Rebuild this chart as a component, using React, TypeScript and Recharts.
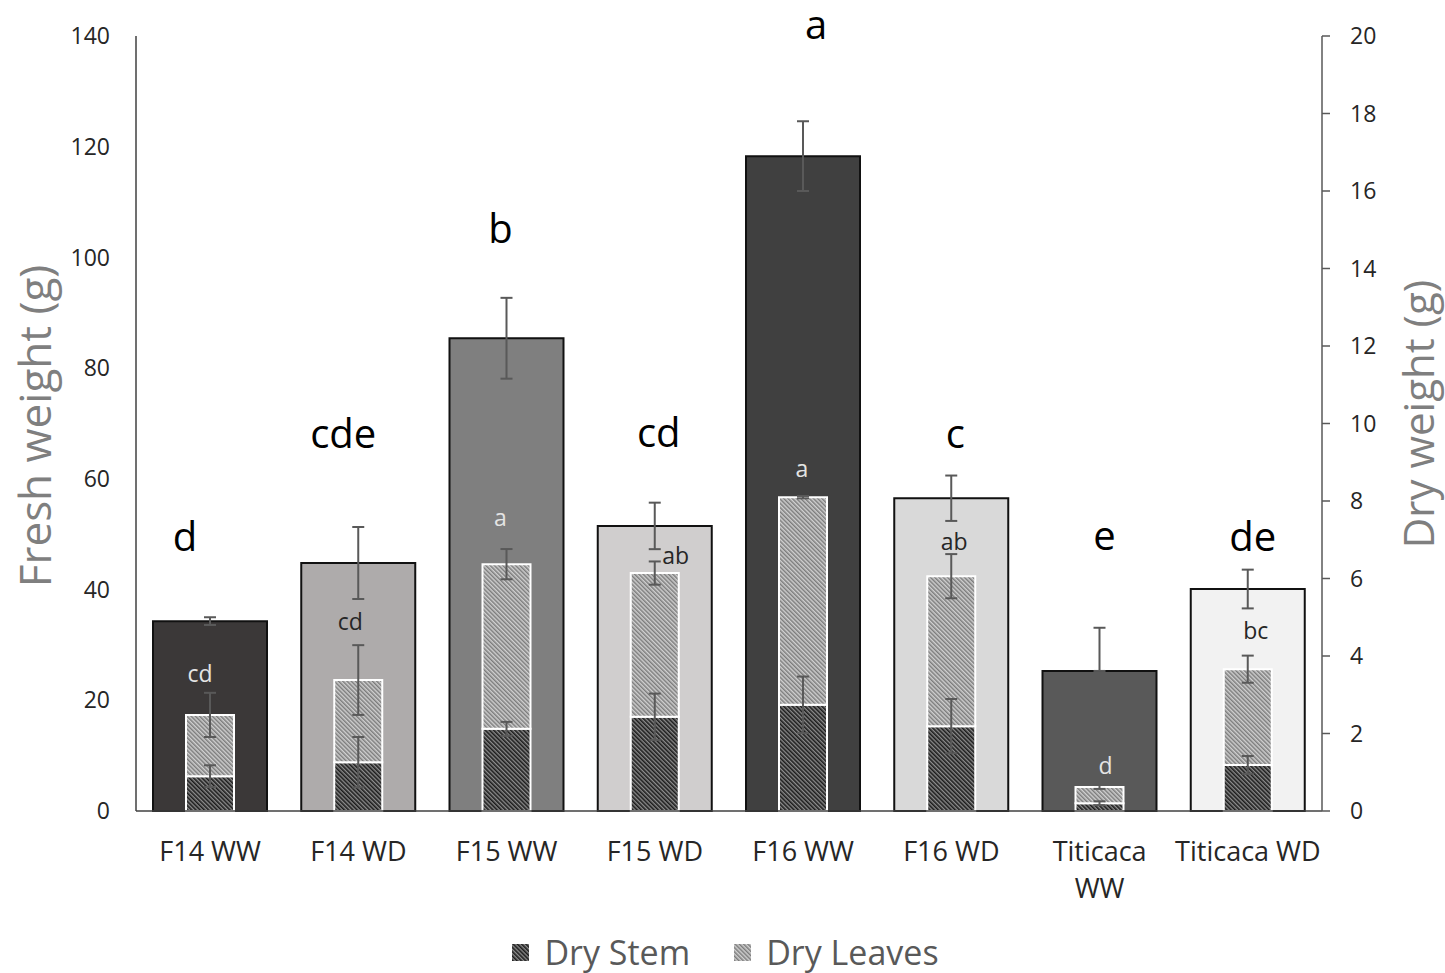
import React from "react";
import {
  Bar,
  Cell,
  ComposedChart,
  ErrorBar,
  LabelList,
  XAxis,
  YAxis,
} from "recharts";

// values
const categories = ["F14 WW", "F14 WD", "F15 WW", "F15 WD", "F16 WW", "F16 WD", "Titicaca WW", "Titicaca WD"];
const tickLabels = ["F14 WW", "F14 WD", "F15 WW", "F15 WD", "F16 WW", "F16 WD", "Titicaca\nWW", "Titicaca WD"];
const freshWeight = [34.3, 44.8, 85.4, 51.5, 118.3, 56.5, 25.3, 40.1];
const freshErr = [[0.7, 0.7], [6.5, 6.5], [7.3, 7.3], [4.2, 4.2], [6.3, 6.3], [4.1, 4.1], [0, 7.8], [3.5, 3.5]];
const dryStem = [0.9, 1.26, 2.12, 2.43, 2.74, 2.19, 0.2, 1.19];
const dryStemErr = [0.28, 0.65, 0.18, 0.6, 0.73, 0.7, 0.05, 0.23];
const dryLeaves = [1.58, 2.12, 4.25, 3.71, 5.36, 3.87, 0.42, 2.47];
const dryLeavesErr = [0.57, 0.9, 0.39, 0.3, 0.03, 0.57, 0.05, 0.35];
const freshLetters = ["d", "cde", "b", "cd", "a", "c", "e", "de"];
const dryLetters = ["cd", "cd", "a", "ab", "a", "ab", "d", "bc"];
const leftTicks = [0, 20, 40, 60, 80, 100, 120, 140];
const rightTicks = [0, 2, 4, 6, 8, 10, 12, 14, 16, 18, 20];

const data = categories.map((name, i) => ({
  name,
  fresh: freshWeight[i],
  freshErr: freshErr[i],
  stem: dryStem[i],
  stemErr: dryStemErr[i],
  leaves: dryLeaves[i],
  leavesErr: dryLeavesErr[i],
}));

// styling
const FONT = "'Open Sans', sans-serif";
const freshColors = ["#3b3838", "#aeabab", "#7f7f7f", "#d0cece", "#404040", "#d9d9d9", "#595959", "#f2f2f2"];
const darkBar = [true, false, true, false, true, false, true, false];
// hand placement of the letter annotations (px from bar top centre)
const bigDx = [-25, -15, -6, 4, 13, 4, 5, 5];
const bigDy = [-86, -131, -111, -94, -133, -66, -136, -54];
const smallDx = [-10, -8, -6, 21, -1, 3, 6, 8];
const smallDy = [-42, -59, -47, -18, -29, -35, -22, -39];

const errStyle = { stroke: "#595959", strokeWidth: 2 };
const stemHatch = { bg: "#8c8c8c", fg: "#1c1c1c", w: 1.6 };
const leafHatch = { bg: "#d0d0d0", fg: "#7c7c7c", w: 1.5 };

const CatTick = (props: any) => {
  const { x, y, payload } = props;
  const idx = categories.indexOf(payload.value);
  const lines = (tickLabels[idx] ?? payload.value).split("\n");
  return (
    <text x={x} y={y} textAnchor="middle" fill="#262626" fontSize={27} fontFamily={FONT}>
      {lines.map((l: string, k: number) => (
        <tspan key={k} x={x} y={y + 50 + k * 37}>
          {l}
        </tspan>
      ))}
    </text>
  );
};

const BigLetter = (p: any) => {
  const i = p.index;
  return (
    <text
      x={p.x + p.width / 2 + bigDx[i]}
      y={p.y + bigDy[i]}
      textAnchor="middle"
      dominantBaseline="central"
      fontSize={40}
      fill="#000"
      fontFamily={FONT}
    >
      {freshLetters[i]}
    </text>
  );
};

const SmallLetter = (p: any) => {
  const i = p.index;
  return (
    <text
      x={p.x + p.width / 2 + smallDx[i]}
      y={p.y + smallDy[i]}
      textAnchor="middle"
      dominantBaseline="central"
      fontSize={23}
      fill={darkBar[i] ? "#e4e4e4" : "#262626"}
      fontFamily={FONT}
    >
      {dryLetters[i]}
    </text>
  );
};

const Hatch = ({ id, bg, fg, w }: { id: string; bg: string; fg: string; w: number }) => (
  <pattern id={id} width="3" height="3" patternUnits="userSpaceOnUse" patternTransform="rotate(-45)">
    <rect width="3" height="3" fill={bg} />
    <rect width={w} height="3" fill={fg} />
  </pattern>
);

const LegendBox = ({ id, h }: { id: string; h: { bg: string; fg: string; w: number } }) => (
  <svg width={17} height={17} style={{ marginRight: 15 }}>
    <defs>
      <Hatch id={id} {...h} />
    </defs>
    <rect width={17} height={17} fill={`url(#${id})`} />
  </svg>
);

export default function App() {
  return (
    <div
      style={{
        position: "absolute",
        left: 0,
        top: 0,
        width: 1445,
        height: 973,
        background: "#fff",
        fontFamily: FONT,
      }}
    >
      <ComposedChart width={1445} height={973} data={data} margin={{ top: 36, right: 0, bottom: 102, left: 0 }}>
        <defs>
          <Hatch id="stemHatch" {...stemHatch} />
          <Hatch id="leafHatch" {...leafHatch} />
        </defs>
        <XAxis
          xAxisId="a"
          dataKey="name"
          height={60}
          interval={0}
          tickLine={false}
          tickSize={0}
          tickMargin={0}
          axisLine={{ stroke: "#404040", strokeWidth: 1.5 }}
          tick={<CatTick />}
        />
        <XAxis xAxisId="b" dataKey="name" hide />
        <YAxis
          yAxisId="left"
          width={136}
          domain={[0, 140]}
          ticks={leftTicks}
          interval={0}
          tickLine={false}
          tickSize={0}
          tickMargin={26}
          axisLine={{ stroke: "#404040", strokeWidth: 1.5 }}
          tick={{ fill: "#262626", fontSize: 23, fontFamily: FONT }}
          label={{
            content: () => (
              <text
                x={34}
                y={426}
                transform="rotate(-90 34 426)"
                textAnchor="middle"
                dominantBaseline="central"
                fontSize={44}
                fill="#7f7f7f"
                fontFamily={FONT}
              >
                Fresh weight (g)
              </text>
            ),
          }}
        />
        <YAxis
          yAxisId="right"
          orientation="right"
          width={123}
          domain={[0, 20]}
          ticks={rightTicks}
          interval={0}
          tickSize={8}
          tickMargin={20}
          tickLine={{ stroke: "#595959", strokeWidth: 1.5 }}
          axisLine={{ stroke: "#595959", strokeWidth: 1.5 }}
          tick={{ fill: "#262626", fontSize: 23, fontFamily: FONT }}
          label={{
            content: () => (
              <text
                x={1417}
                y={414}
                transform="rotate(-90 1417 414)"
                textAnchor="middle"
                dominantBaseline="central"
                fontSize={42}
                fill="#7f7f7f"
                fontFamily={FONT}
              >
                Dry weight (g)
              </text>
            ),
          }}
        />
        <Bar
          xAxisId="a"
          yAxisId="left"
          dataKey="fresh"
          barSize={114}
          stroke="#111"
          strokeWidth={2}
          isAnimationActive={false}
        >
          {data.map((d, i) => (
            <Cell key={d.name} fill={freshColors[i]} />
          ))}
          <ErrorBar dataKey="freshErr" direction="y" width={6} {...errStyle} />
          <LabelList dataKey="fresh" content={<BigLetter />} />
        </Bar>
        <Bar
          xAxisId="b"
          yAxisId="right"
          dataKey="stem"
          stackId="dry"
          barSize={48}
          fill="url(#stemHatch)"
          stroke="#fff"
          strokeWidth={2}
          isAnimationActive={false}
        >
          <ErrorBar dataKey="stemErr" direction="y" width={6} {...errStyle} />
        </Bar>
        <Bar
          xAxisId="b"
          yAxisId="right"
          dataKey="leaves"
          stackId="dry"
          barSize={48}
          fill="url(#leafHatch)"
          stroke="#fff"
          strokeWidth={2}
          isAnimationActive={false}
        >
          <ErrorBar dataKey="leavesErr" direction="y" width={6} {...errStyle} />
          <LabelList dataKey="leaves" content={<SmallLetter />} />
        </Bar>
      </ComposedChart>
      <div
        style={{
          position: "absolute",
          top: 932,
          left: 0,
          width: 1445,
          display: "flex",
          justifyContent: "center",
          alignItems: "center",
          paddingLeft: 6,
          boxSizing: "border-box",
          fontSize: 34,
          color: "#595959",
          lineHeight: "40px",
        }}
      >
        <LegendBox id="lgStem" h={stemHatch} />
        <span style={{ marginRight: 44 }}>Dry Stem</span>
        <LegendBox id="lgLeaf" h={leafHatch} />
        <span>Dry Leaves</span>
      </div>
    </div>
  );
}
